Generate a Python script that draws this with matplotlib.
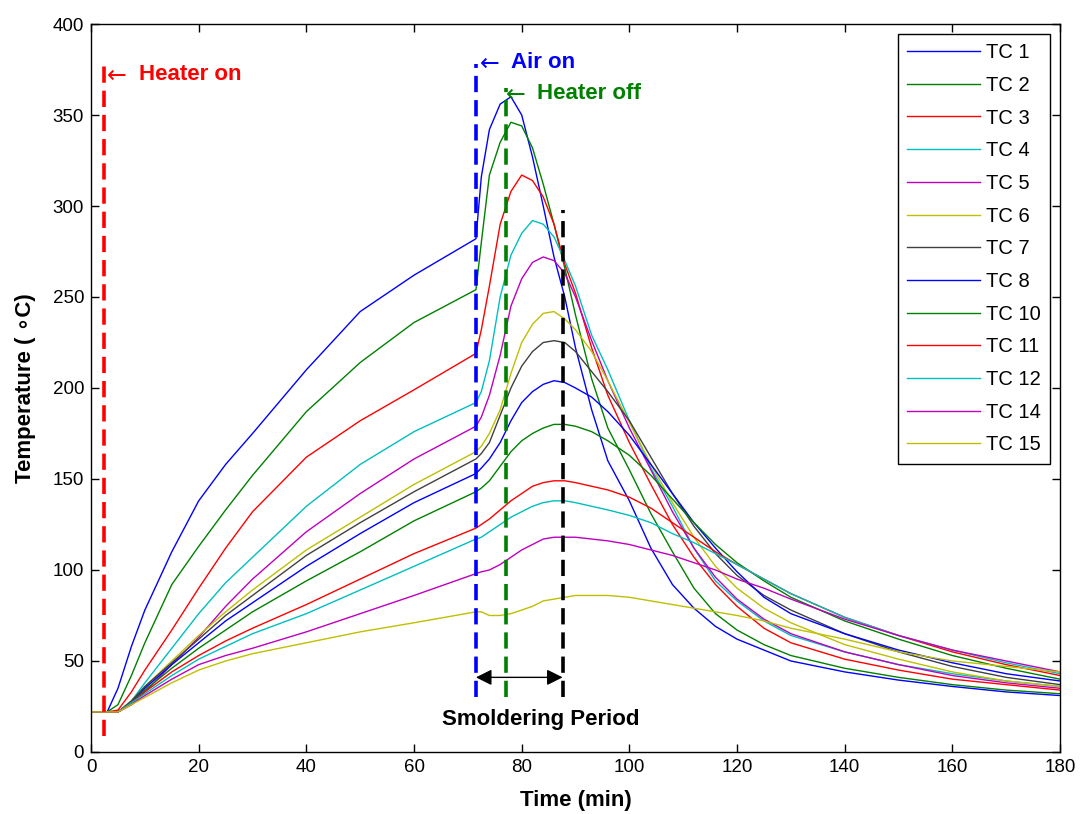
import matplotlib
matplotlib.use("Agg")
import matplotlib.pyplot as plt

plt.rcParams['font.family'] = ['Liberation Sans', 'DejaVu Sans']

# ---- data ----
time_min = [0, 3, 5, 7.5, 10, 15, 20, 25, 30, 40, 50, 60, 71.5, 72.5, 74, 76, 78, 80, 82, 84,
            86, 88, 90, 93, 96, 100, 104, 108, 112, 116, 120, 125, 130, 140, 150, 160, 170, 180]

tc1 = [22, 22, 35, 58, 78, 110, 138, 158, 175, 210, 242, 262, 282, 316, 342, 356, 360, 350, 327, 300,
       272, 250, 222, 188, 160, 138, 112, 92, 79, 69, 62, 56, 50, 44, 39.5, 36, 33, 31]
tc2 = [22, 22, 26, 42, 60, 92, 113, 133, 152, 187, 214, 236, 254, 280, 317, 335, 346, 344, 332, 312,
       290, 266, 240, 205, 178, 155, 131, 110, 90, 76, 67, 59, 53, 46, 41, 37, 34, 32]
tc3 = [22, 22, 23, 33, 45, 67, 90, 112, 132, 162, 182, 199, 219, 232, 256, 290, 308, 317, 314, 305,
       290, 268, 252, 222, 196, 170, 147, 125, 107, 92, 80, 68, 60, 51, 45, 40, 37, 34]
tc4 = [22, 22, 22, 28, 38, 57, 76, 93, 107, 135, 158, 176, 192, 198, 215, 250, 273, 285, 292, 290,
       283, 270, 256, 229, 210, 182, 156, 135, 112, 94, 83, 72, 64, 55, 48, 43, 39, 36]
tc5 = [22, 22, 22, 26, 33, 48, 63, 80, 95, 121, 142, 161, 179, 184, 196, 218, 245, 260, 269, 272,
       270, 263, 250, 226, 204, 178, 155, 132, 112, 96, 84, 73, 65, 55, 48, 42, 38, 35]
tc6 = [22, 22, 22, 28, 36, 50, 64, 77, 89, 111, 129, 147, 165, 168, 175, 188, 208, 225, 235, 241,
       242, 238, 232, 220, 204, 181, 158, 137, 118, 102, 90, 79, 71, 59, 51, 44, 39, 36]
tc7 = [22, 22, 22, 28, 36, 49, 62, 75, 86, 108, 126, 143, 161, 164, 170, 185, 200, 212, 220, 225,
       226, 225, 220, 209, 198, 182, 162, 142, 124, 109, 97, 86, 78, 65, 55, 47, 41, 37]
tc8 = [22, 22, 22, 27, 35, 48, 60, 72, 82, 102, 120, 137, 153, 156, 161, 170, 182, 192, 198, 202,
       204, 203, 200, 195, 187, 174, 158, 142, 126, 112, 99, 85, 76, 65, 56, 49, 43, 39]
tc10 = [22, 22, 22, 27, 34, 46, 57, 67, 77, 94, 110, 127, 143, 145, 149, 157, 165, 171, 175, 178,
        180, 180, 179, 176, 171, 163, 152, 139, 126, 114, 104, 94, 85, 72, 62, 53, 46, 40]
tc11 = [22, 22, 22, 27, 33, 44, 53, 61, 68, 81, 95, 109, 123, 125, 128, 133, 138, 142, 146, 148,
        149, 149, 148, 146, 144, 140, 134, 126, 118, 110, 103, 95, 87, 74, 64, 55, 48, 42]
tc12 = [22, 22, 22, 27, 32, 42, 51, 58, 65, 76, 89, 102, 117, 118, 121, 125, 129, 132, 135, 137,
        138, 138, 137, 135, 133, 130, 126, 120, 115, 109, 103, 95, 87, 74, 64, 56, 49, 43]
tc14 = [22, 22, 22, 26, 31, 40, 48, 53, 57, 66, 76, 86, 98, 99, 100, 103, 107, 111, 114, 117,
        118, 118, 118, 117, 116, 114, 111, 108, 104, 100, 95, 90, 84, 73, 64, 56, 50, 44]
tc15 = [22, 22, 22, 26, 30, 38, 45, 50, 54, 60, 66, 71, 77, 77, 75, 75, 76, 78, 80, 83,
        84, 85, 86, 86, 86, 85, 83, 81, 79, 77, 75, 72, 68, 62, 55, 50, 47, 44]

series = [tc1, tc2, tc3, tc4, tc5, tc6, tc7, tc8, tc10, tc11, tc12, tc14, tc15]
labels = ['TC 1', 'TC 2', 'TC 3', 'TC 4', 'TC 5', 'TC 6', 'TC 7', 'TC 8',
          'TC 10', 'TC 11', 'TC 12', 'TC 14', 'TC 15']

# event markers (time, min)
heater_on_t = 2.4
air_on_t = 71.5
heater_off_t = 77.0
smolder_end_t = 87.6

# ---- styles ----
B = (0, 0, 1)
G = (0, 0.5, 0)
R = (1, 0, 0)
C = (0, 0.75, 0.75)
M = (0.75, 0, 0.75)
Y = (0.75, 0.75, 0)
K = (0.25, 0.25, 0.25)
colors = [B, G, R, C, M, Y, K, B, G, R, C, M, Y]

fig = plt.figure(figsize=(10.8, 8.14), dpi=100)
ax = fig.add_axes([0.0843, 0.0762, 0.8972, 0.8943])

for vals, lab, col in zip(series, labels, colors):
    ax.plot(time_min, vals, color=col, lw=1.0, label=lab)

dash = (0, (4.5, 2.2))
ax.plot([heater_on_t, heater_on_t], [9, 377], color=R, lw=2.6, linestyle=dash)
ax.plot([air_on_t, air_on_t], [30, 378], color=B, lw=2.6, linestyle=dash)
ax.plot([heater_off_t, heater_off_t], [30, 365], color=G, lw=2.6, linestyle=dash)
ax.plot([smolder_end_t, smolder_end_t], [30, 298], color='k', lw=2.6, linestyle=dash)

afont = dict(fontsize=17, family='DejaVu Sans', fontweight='normal', va='center', ha='left')
tfont = dict(fontsize=16, fontweight='bold', va='center', ha='left')
ax.text(2.9, 371.5, '\u2190', color=R, **afont)
ax.text(8.9, 372.5, 'Heater on', color=R, **tfont)
ax.text(72.3, 378, '\u2190', color=B, **afont)
ax.text(78.1, 379, 'Air on', color=B, **tfont)
ax.text(77.1, 361, '\u2190', color=G, **afont)
ax.text(82.9, 362, 'Heater off', color=G, **tfont)

ax.annotate('', xy=(air_on_t, 41), xytext=(smolder_end_t, 41),
            arrowprops=dict(arrowstyle='<|-|>', color='k', lw=1.0,
                            mutation_scale=24, shrinkA=0, shrinkB=0))
ax.text(83.6, 18, 'Smoldering Period', fontsize=16, fontweight='bold',
        ha='center', va='center', color='k')

ax.set_xlim(0, 180)
ax.set_ylim(0, 400)
ax.set_xticks(range(0, 181, 20))
ax.set_yticks(range(0, 401, 50))
ax.tick_params(direction='in', top=True, right=True, labelsize=13.5, length=6, width=1, pad=5)
for sp in ax.spines.values():
    sp.set_linewidth(1.0)

ax.set_xlabel('Time (min)', fontsize=16, fontweight='bold', labelpad=10)
ax.set_ylabel('Temperature ( \u2218C)', fontsize=16, fontweight='bold', labelpad=12)

leg = ax.legend(loc='upper right', fontsize=14.5, handlelength=3.6, labelspacing=0.68,
                borderpad=0.45, handletextpad=0.3, fancybox=False, framealpha=1,
                edgecolor='k', borderaxespad=0.5)
leg.get_frame().set_linewidth(1.0)

fig.savefig('out.png', dpi=100)
